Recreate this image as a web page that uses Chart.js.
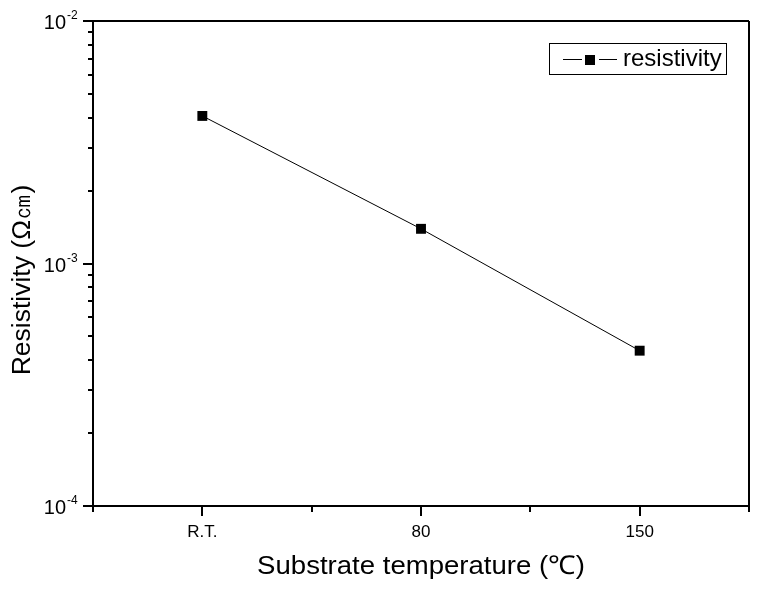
<!DOCTYPE html>
<html>
<head>
<meta charset="utf-8">
<script src="https://cdn.jsdelivr.net/npm/chart.js@4"></script>
<style>
  body { margin: 0; background: #fff; }
  #wrap { width: 764px; height: 590px; }
</style>
</head>
<body>
<div id="wrap"><canvas id="resChart" width="764" height="590"></canvas></div>
<script>
// datos
const categories = ['R.T.', '80', '150'];
const resistivity = [4.06e-3, 1.39e-3, 4.37e-4];
const yDecades = [-2, -3, -4];

const FONT = 'Arial, "Liberation Sans", sans-serif';

// ejes, marcas y leyenda al estilo Origin
const axesPlugin = {
  id: 'originAxes',
  afterDraw(chart) {
    const ctx = chart.ctx;
    const x = chart.scales.x;
    const y = chart.scales.y;
    const a = chart.chartArea;
    ctx.save();
    ctx.strokeStyle = '#000';
    ctx.fillStyle = '#000';

    // marco
    ctx.lineWidth = 2;
    ctx.beginPath();
    ctx.moveTo(a.left, a.top);
    ctx.lineTo(a.right, a.top);
    ctx.moveTo(a.right, a.top);
    ctx.lineTo(a.right, a.bottom);
    ctx.moveTo(a.left, a.top);
    ctx.lineTo(a.left, a.bottom);
    ctx.moveTo(a.left, a.bottom);
    ctx.lineTo(a.right, a.bottom);
    ctx.stroke();

    // marcas eje x
    for (let v = -0.5; v <= 2.5; v += 0.5) {
      const px = Math.round(x.getPixelForValue(v));
      const len = Number.isInteger(v) ? 10 : 6;
      ctx.beginPath();
      ctx.moveTo(px, a.bottom);
      ctx.lineTo(px, a.bottom + len);
      ctx.stroke();
    }
    ctx.font = '17px ' + FONT;
    ctx.textAlign = 'center';
    ctx.textBaseline = 'middle';
    categories.forEach((c, i) => {
      ctx.fillText(c, x.getPixelForValue(i), a.bottom + 26);
    });

    // marcas eje y (log)
    yDecades.forEach(d => {
      const py = Math.round(y.getPixelForValue(Math.pow(10, d)));
      ctx.beginPath();
      ctx.moveTo(a.left - 10, py);
      ctx.lineTo(a.left, py);
      ctx.stroke();
      ctx.font = '20px ' + FONT;
      ctx.textAlign = 'right';
      ctx.textBaseline = 'middle';
      ctx.fillText('10', 66, py + 2);
      ctx.font = '12px ' + FONT;
      ctx.textAlign = 'left';
      ctx.fillText('-' + (-d), 67, py - 5);
      if (d > -4) {
        for (let k = 2; k <= 9; k++) {
          const my = Math.round(y.getPixelForValue(k * Math.pow(10, d - 1)));
          ctx.beginPath();
          ctx.moveTo(a.left - 5, my);
          ctx.lineTo(a.left, my);
          ctx.stroke();
        }
      }
    });

    // titulos
    ctx.font = '26px ' + FONT;
    ctx.textAlign = 'center';
    ctx.textBaseline = 'middle';
    ctx.save();
    ctx.translate(421, 567);
    ctx.scale(1.06, 1);
    ctx.fillText('Substrate temperature (\u2103)', 0, 0);
    ctx.restore();
    ctx.save();
    ctx.translate(23, 280);
    ctx.rotate(-Math.PI / 2);
    ctx.scale(1.02, 1);
    ctx.fillText('Resistivity (\u03A9\u339D)', 0, 0);
    ctx.restore();

    // leyenda
    ctx.lineWidth = 1;
    ctx.strokeRect(549.5, 43.5, 177, 31);
    ctx.beginPath();
    ctx.moveTo(563, 59.5);
    ctx.lineTo(582, 59.5);
    ctx.moveTo(599, 59.5);
    ctx.lineTo(617, 59.5);
    ctx.stroke();
    ctx.fillRect(585, 55, 10, 10);
    ctx.font = '24px ' + FONT;
    ctx.textAlign = 'left';
    ctx.fillText('resistivity', 623, 59);

    ctx.restore();
  }
};

new Chart(document.getElementById('resChart'), {
  type: 'line',
  data: {
    datasets: [{
      label: 'resistivity',
      data: categories.map((c, i) => ({ x: i, y: resistivity[i] })),
      borderColor: '#000',
      borderWidth: 1,
      backgroundColor: '#000',
      pointStyle: 'rect',
      pointRadius: 7,
      pointBorderWidth: 0,
      pointBackgroundColor: '#000',
      tension: 0
    }]
  },
  options: {
    responsive: false,
    animation: false,
    layout: { padding: { left: 93, right: 15, top: 21, bottom: 84 } },
    plugins: { legend: { display: false }, tooltip: { enabled: false } },
    scales: {
      x: { type: 'linear', min: -0.5, max: 2.5, display: false },
      y: { type: 'logarithmic', min: 1e-4, max: 1e-2, display: false }
    }
  },
  plugins: [axesPlugin]
});
</script>
</body>
</html>
